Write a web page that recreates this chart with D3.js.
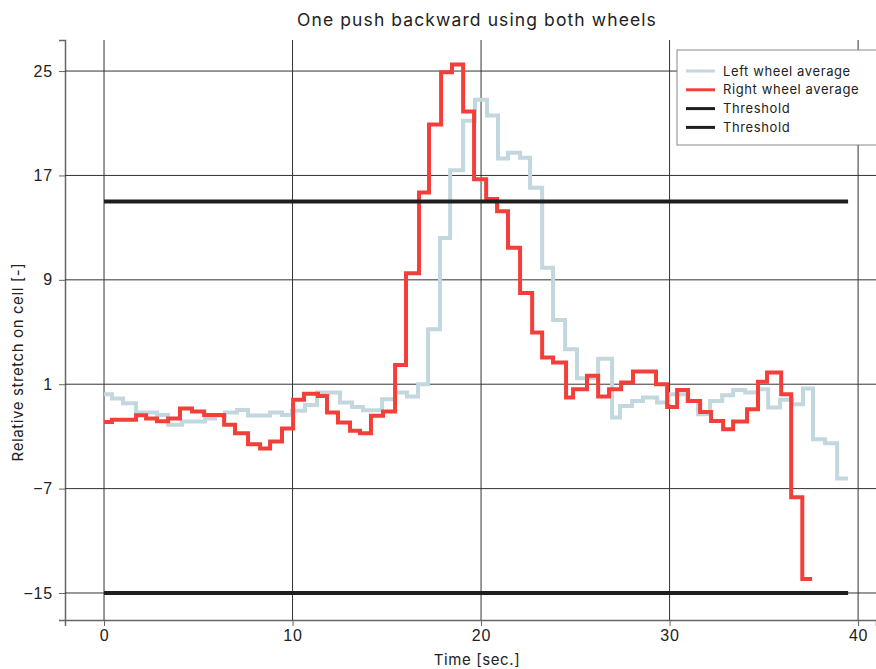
<!DOCTYPE html>
<html>
<head>
<meta charset="utf-8">
<script src="https://cdn.jsdelivr.net/npm/d3@7"></script>
<style>
  body { margin: 0; background: #fff; }
  svg { font-family: Inter, "Open Sans", sans-serif; }
</style>
</head>
<body>
<svg id="chart" width="876" height="669"></svg>
<script>
// step edges (sec.) and the value held over each step
const leftTime = [0, 0.42, 1.01, 1.70, 2.81, 3.40, 4.14, 5.36, 5.89, 6.42,
  7.06, 7.64, 8.81, 9.44, 9.97, 10.66, 11.30, 12.52, 13.16, 13.74,
  14.75, 15.44, 16.07, 16.66, 17.19, 17.82, 18.36, 19.05, 19.68, 20.32,
  20.90, 21.43, 22.07, 22.60, 23.24, 23.82, 24.46, 25.09, 26.21, 26.95,
  27.37, 28.01, 28.59, 29.34, 29.92, 30.93, 31.51, 32.15, 32.79, 33.37,
  34.01, 34.69, 35.23, 35.86, 36.50, 37.08, 37.61, 38.25, 38.89, 39.47];
const leftValue = [0.23, -0.1, -0.45, -1.17, -1.35, -2.1, -1.85, -1.63, -1.4, -1.17,
  -0.98, -1.4, -1.17, -1.35, -1.04, -0.6, 0.36, -0.4, -0.74, -1.0,
  -0.15, 0.36, 0.06, 1.0, 5.21, 12.2, 17.4, 21.2, 22.8, 21.6,
  18.3, 18.74, 18.36, 16.06, 9.93, 5.92, 3.68, 1.45, 2.95, -1.55,
  -0.66, -0.28, -0.02, -0.4, 0.23, -0.28, -1.3, -0.28, 0.15, 0.56,
  0.36, 0.62, -0.78, -0.2, -0.53, 0.67, -3.21, -3.52, -6.22];

const rightTime = [0, 0.42, 1.70, 2.23, 2.81, 3.40, 4.03, 4.67, 5.31, 6.37,
  6.95, 7.64, 8.28, 8.81, 9.44, 10.03, 10.61, 11.35, 11.83, 12.41,
  13.05, 13.58, 14.16, 14.80, 15.44, 16.02, 16.71, 17.24, 17.88, 18.46,
  19.05, 19.63, 20.27, 20.85, 21.43, 22.07, 22.71, 23.24, 23.82, 24.51,
  24.88, 25.62, 26.21, 26.79, 27.43, 28.06, 29.28, 29.87, 30.40, 30.98,
  31.62, 32.20, 32.84, 33.37, 34.11, 34.69, 35.17, 35.92, 36.45, 37.04, 37.56];
const rightValue = [-1.89, -1.73, -1.37, -1.63, -1.83, -1.63, -0.86, -1.09, -1.35, -2.11,
  -2.75, -3.6, -3.93, -3.39, -2.39, -0.2, 0.26, 0.1, -1.17, -1.93,
  -2.57, -2.75, -1.42, -1.09, 2.48, 9.5, 15.7, 20.9, 24.9, 25.5,
  21.9, 16.7, 15.2, 14.25, 11.45, 8.0, 4.96, 3.04, 2.66, -0.02,
  0.62, 1.64, 0.06, 0.62, 1.13, 1.97, 1.0, -0.74, 0.56, -0.28,
  -1.12, -1.81, -2.45, -1.85, -0.91, 1.18, 1.9, 0.23, -7.67, -13.93];

const thresholds = [15, -15];
const thresholdSpan = [0, 39.47];

const xTicks = [0, 10, 20, 30, 40];
const yTicks = [-15, -7, 1, 9, 17, 25];

const svg = d3.select("#chart");

const plotLeft = 65, plotRight = 876, plotTop = 40, plotBottom = 620;

const x = d3.scaleLinear().domain([-2.07, 40.95]).range([plotLeft, plotRight]);
const y = d3.scaleLinear().domain([-17.07, 27.38]).range([plotBottom, plotTop]);

// gridlines + axes
const xAxis = svg.append("g")
  .attr("transform", `translate(0,${plotBottom})`)
  .call(d3.axisBottom(x).tickValues(xTicks).tickSize(6).tickPadding(4));
xAxis.selectAll(".tick line").attr("stroke", "#666");
xAxis.select(".domain").attr("stroke", "#666").attr("stroke-width", 1.5);

const yAxis = svg.append("g")
  .attr("transform", `translate(${plotLeft},0)`)
  .call(d3.axisLeft(y).tickValues(yTicks).tickSize(6).tickPadding(6));
yAxis.selectAll(".tick line").attr("stroke", "#666");
yAxis.select(".domain").attr("stroke", "#666").attr("stroke-width", 1.5);

svg.selectAll(".tick text")
  .attr("font-size", 16)
  .attr("letter-spacing", 0.8)
  .attr("fill", "#222");

svg.append("g")
  .selectAll("line")
  .data(xTicks)
  .join("line")
  .attr("x1", d => x(d)).attr("x2", d => x(d))
  .attr("y1", plotTop).attr("y2", plotBottom)
  .attr("stroke", "#333").attr("stroke-width", 1);

svg.append("g")
  .selectAll("line")
  .data(yTicks)
  .join("line")
  .attr("x1", plotLeft).attr("x2", plotRight)
  .attr("y1", d => y(d)).attr("y2", d => y(d))
  .attr("stroke", "#333").attr("stroke-width", 1);

// step lines
function stepPoints(times, values) {
  const pts = values.map((v, i) => [times[i], v]);
  pts.push([times[values.length], values[values.length - 1]]);
  return pts;
}

const line = d3.line()
  .x(d => x(d[0]))
  .y(d => y(d[1]))
  .curve(d3.curveStepAfter);

svg.append("path")
  .datum(stepPoints(leftTime, leftValue))
  .attr("d", line)
  .attr("fill", "none")
  .attr("stroke", "#c3d7de")
  .attr("stroke-width", 4);

svg.append("path")
  .datum(stepPoints(rightTime, rightValue))
  .attr("d", line)
  .attr("fill", "none")
  .attr("stroke", "#f33f3a")
  .attr("stroke-width", 4);

svg.append("g")
  .selectAll("line")
  .data(thresholds)
  .join("line")
  .attr("x1", x(thresholdSpan[0])).attr("x2", x(thresholdSpan[1]))
  .attr("y1", d => y(d)).attr("y2", d => y(d))
  .attr("stroke", "#1e1e1e").attr("stroke-width", 4);

// titles
svg.append("text")
  .attr("x", 477).attr("y", 26)
  .attr("text-anchor", "middle")
  .attr("font-size", 17.5)
  .attr("letter-spacing", 1.1)
  .attr("fill", "#222")
  .text("One push backward using both wheels");

svg.append("text")
  .attr("x", 477).attr("y", 665)
  .attr("text-anchor", "middle")
  .attr("font-size", 15)
  .attr("letter-spacing", 0.6)
  .attr("fill", "#222")
  .text("Time [sec.]");

svg.append("text")
  .attr("transform", "translate(23,362) rotate(-90)")
  .attr("text-anchor", "middle")
  .attr("font-size", 15)
  .attr("letter-spacing", 0.6)
  .attr("fill", "#222")
  .text("Relative stretch on cell [-]");

// legend
const legendItems = [
  { label: "Left wheel average", color: "#c3d7de" },
  { label: "Right wheel average", color: "#f33f3a" },
  { label: "Threshold", color: "#1e1e1e" },
  { label: "Threshold", color: "#1e1e1e" }
];

const legend = svg.append("g").attr("transform", "translate(677,50)");
legend.append("rect")
  .attr("width", 200).attr("height", 95)
  .attr("fill", "#fff")
  .attr("stroke", "#888");

const rows = legend.selectAll("g.row")
  .data(legendItems)
  .join("g")
  .attr("class", "row")
  .attr("transform", (d, i) => `translate(0,${21 + i * 18.8})`);
rows.append("line")
  .attr("x1", 9).attr("x2", 38)
  .attr("stroke", d => d.color)
  .attr("stroke-width", 3);
rows.append("text")
  .attr("x", 46).attr("dy", "0.35em")
  .attr("font-size", 13)
  .attr("letter-spacing", 0.6)
  .attr("fill", "#222")
  .text(d => d.label);
</script>
</body>
</html>
